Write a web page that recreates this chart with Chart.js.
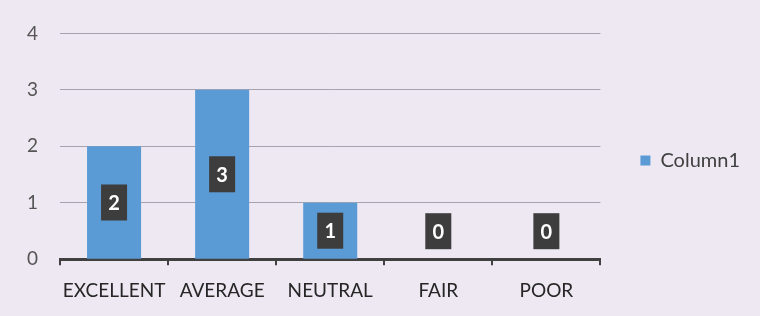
<!DOCTYPE html>
<html>
<head>
<meta charset="utf-8">
<script src="https://cdn.jsdelivr.net/npm/chart.js@4"></script>
<style>
  html, body { margin: 0; padding: 0; background: #ede8f2; }
  #wrap { width: 760px; height: 316px; }
</style>
</head>
<body>
<div id="wrap"><canvas id="chart" width="760" height="316"></canvas></div>
<script>
const categories = ['EXCELLENT', 'AVERAGE', 'NEUTRAL', 'FAIR', 'POOR']
const column1 = [2, 3, 1, 0, 0]
const yTicks = [0, 1, 2, 3, 4]

// dark boxes with the value, centred in each bar
const valueBoxes = {
  id: 'valueBoxes',
  afterDatasetsDraw(chart) {
    const ctx = chart.ctx
    const meta = chart.getDatasetMeta(0)
    ctx.save()
    meta.data.forEach((bar, i) => {
      let cy = (bar.y + bar.base) / 2
      cy = Math.min(cy, bar.base - 28)
      const w = 26, h = 36
      ctx.fillStyle = '#3d3d3d'
      ctx.fillRect(bar.x - w / 2, cy - h / 2, w, h)
      ctx.fillStyle = '#ffffff'
      ctx.font = 'bold 20px Lato'
      ctx.textAlign = 'center'
      ctx.textBaseline = 'middle'
      ctx.fillText(String(column1[i]), bar.x, cy + 1)
    })
    ctx.restore()
  }
}

new Chart(document.getElementById('chart'), {
  type: 'bar',
  data: {
    labels: categories,
    datasets: [{
      label: 'Column1',
      data: column1,
      backgroundColor: '#5b9bd5',
      categoryPercentage: 1,
      barPercentage: 0.5,
      yAxisID: 'y'
    }]
  },
  options: {
    responsive: false,
    animation: false,
    layout: { padding: { left: 5, top: 5, right: 10, bottom: 0 } },
    plugins: {
      legend: {
        position: 'right',
        labels: {
          boxWidth: 10,
          boxHeight: 10,
          color: '#404040',
          font: { family: 'Lato', size: 20 }
        }
      },
      tooltip: { enabled: false }
    },
    scales: {
      x: {
        grid: {
          display: true,
          drawOnChartArea: false,
          drawTicks: true,
          tickLength: 6,
          color: '#404040',
          lineWidth: 2
        },
        border: { display: true, color: '#404040', width: 3 },
        ticks: {
          color: '#262626',
          padding: 14,
          maxRotation: 0,
          minRotation: 0,
          autoSkip: false,
          font: { family: 'Lato', size: 19 }
        }
      },
      y: {
        min: 0,
        max: 4,
        afterBuildTicks(scale) { scale.ticks = yTicks.map(v => ({ value: v })) },
        grid: { color: '#a8a2b0', lineWidth: 1, drawTicks: false },
        border: { display: false },
        ticks: {
          color: '#555555',
          padding: 22,
          font: { family: 'Lato', size: 19 }
        }
      },
      gap: {
        type: 'linear',
        position: 'right',
        display: true,
        grid: { display: false },
        border: { display: false },
        ticks: { display: false },
        afterFit(scale) { scale.width = 30 }
      },
      gapTop: {
        type: 'linear',
        position: 'top',
        display: true,
        grid: { display: false },
        border: { display: false },
        ticks: { display: false },
        afterFit(scale) { scale.height = 28 }
      }
    }
  },
  plugins: [valueBoxes]
})
</script>
</body>
</html>
